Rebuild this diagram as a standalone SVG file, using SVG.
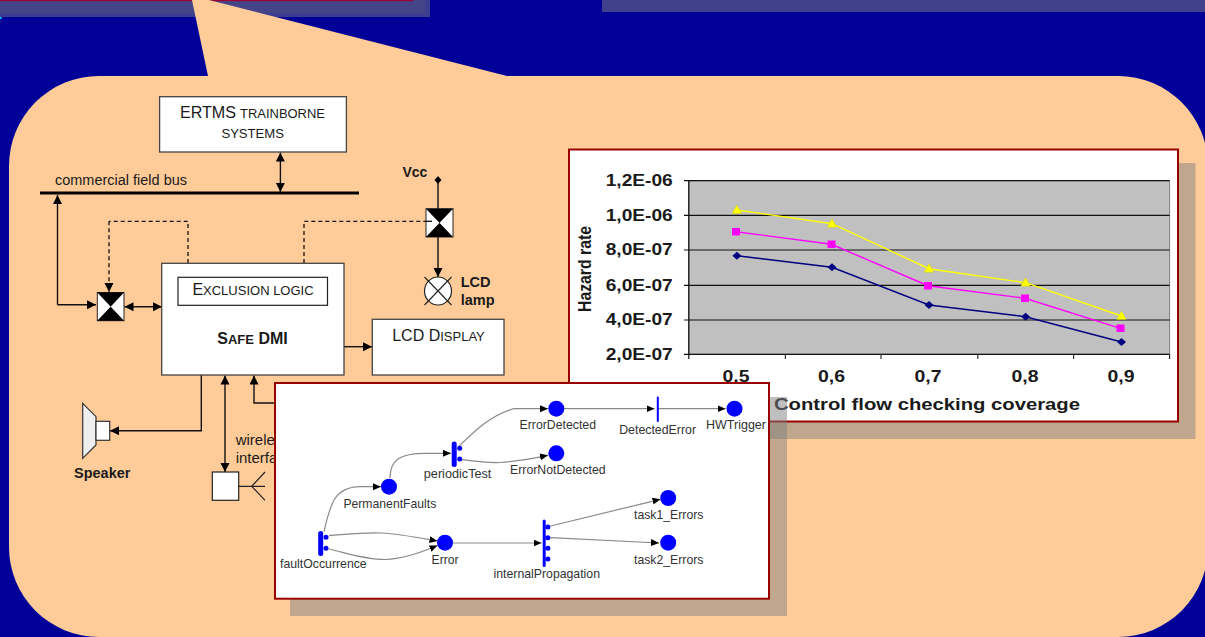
<svg xmlns="http://www.w3.org/2000/svg" width="1205" height="637" viewBox="0 0 1205 637">
<style>
text{font-family:"Liberation Sans",Arial,sans-serif;fill:#1a1a1a}
.b{font-weight:bold}
.box{fill:#fff;stroke:#444;stroke-width:1.3}
.w{fill:none;stroke:#111;stroke-width:1.4}
.a{marker-end:url(#ah)}
.d{marker-start:url(#ahs);marker-end:url(#ah)}
.dash{fill:none;stroke:#111;stroke-width:1.3;stroke-dasharray:4 3}
.shadow{fill:#808080;fill-opacity:.5}
.frame{fill:#fff;stroke:#990000;stroke-width:2}
.grid{stroke:#111;stroke-width:1.2}
.tick{stroke:#333;stroke-width:1.2}
.yl,.xl,.at{font-weight:bold;font-size:16px}
.yl{text-anchor:end}
.xl{text-anchor:middle}
.hz{font-weight:bold;font-size:18px}
.s1{fill:none;stroke:#000080;stroke-width:1.4}
.s2{fill:none;stroke:#ff00ff;stroke-width:1.4}
.s3{fill:none;stroke:#ffff00;stroke-width:1.4}
.place{fill:#0000ff}
.bar{fill:none;stroke:#0000ff;stroke-linecap:round}
.dot{fill:#0000ff}
.e{fill:none;stroke:#8a8a8a;stroke-width:1.2;marker-end:url(#pah)}
.pl{font-size:13px;fill:#333}
</style>
<defs>
<marker id="ah" markerUnits="userSpaceOnUse" markerWidth="10" markerHeight="10" refX="9" refY="4.5" orient="auto"><path d="M0 0L9 4.5L0 9z" fill="#000"/></marker>
<marker id="ahs" markerUnits="userSpaceOnUse" markerWidth="10" markerHeight="10" refX="0" refY="4.5" orient="auto"><path d="M9 0L0 4.5L9 9z" fill="#000"/></marker>
<marker id="pah" markerUnits="userSpaceOnUse" markerWidth="9" markerHeight="8" refX="8" refY="3.5" orient="auto"><path d="M0 0L8 3.5L0 7z" fill="#000"/></marker>
</defs>

<rect width="1205" height="637" fill="#000099"/>
<g id="top-panels">
<rect x="0" y="0" width="430" height="17" fill="#3d3d8f"/>
<rect x="0" y="0" width="425" height="13" fill="#444488"/>
<rect x="0" y="0" width="413" height="1.2" fill="#990033"/>
<rect x="602" y="0" width="603" height="12" fill="#40408c"/>
<rect x="0" y="17" width="1.5" height="2" fill="#00ccff"/>
</g>
<path id="callout" fill="#ffcc99" d="M192 0L209 0L507 76L1118 76A90 90 0 0 1 1208 166L1208 547A90 90 0 0 1 1118 637L99 637A90 90 0 0 1 9 547L9 166A90 90 0 0 1 99 76L208 76z"/>

<g id="connectors">
<path class="w d" d="M280.4 152.500V192"/>
<path class="w a" d="M57.500 304.700V195" />
<path class="w a" d="M57.500 304.700H96"/>
<path class="w d" d="M124.500 306.700H162"/>
<path class="dash" d="M188 277V221.300H109"/>
<path class="dash a" d="M109 221.300V292"/>
<path class="dash" d="M304 277V221.300H427"/>
<path class="w" d="M438 180V209"/>
<path class="w a" d="M438 237V277"/>
<path class="w a" d="M344 346.700H372"/>
<path class="w a" d="M201.300 375V430.700H110"/>
<path class="w d" d="M225 375.500V472"/>
<path class="w a" d="M276 403H254V375.500"/>
</g>

<g id="bus"><rect x="40" y="191.500" width="319" height="3" fill="#000"/>
<text x="55" y="185" font-size="14" textLength="132" lengthAdjust="spacingAndGlyphs">commercial field bus</text></g>

<g id="ertms"><rect class="box" x="159.600" y="96.700" width="186.800" height="55.300"/>
<text x="180" y="118" font-size="17" textLength="56" lengthAdjust="spacingAndGlyphs">ERTMS</text>
<text x="240" y="118" font-size="13" textLength="85" lengthAdjust="spacingAndGlyphs">TRAINBORNE</text>
<text x="221.400" y="138" font-size="13" textLength="62.600" lengthAdjust="spacingAndGlyphs">SYSTEMS</text></g>

<g id="safe-dmi"><rect class="box" x="161.700" y="263.300" width="182.300" height="111.700"/>
<text class="b" x="252.500" y="344" text-anchor="middle" font-size="16">S<tspan font-size="13">AFE</tspan> DMI</text></g>

<g id="exclusion-logic"><rect x="178" y="277.300" width="149.500" height="28" fill="#fff" stroke="#222" stroke-width="1.200"/>
<text x="253" y="295" text-anchor="middle" font-size="16">E<tspan font-size="13">XCLUSION LOGIC</tspan></text></g>

<g id="lcd-display"><rect class="box" x="372.300" y="319.300" width="131.700" height="55.700"/>
<text x="438.500" y="340.700" text-anchor="middle" font-size="16">LCD D<tspan font-size="13">ISPLAY</tspan></text></g>

<g id="switch-left"><rect x="97.300" y="292.500" width="26.700" height="28.200" fill="#fff" stroke="#222" stroke-width="1"/>
<path d="M97.300 292.500H124L97.300 320.700H124z" fill="#000"/></g>

<g id="switch-right"><rect x="426" y="208.700" width="27" height="28.300" fill="#fff" stroke="#222" stroke-width="1"/>
<path d="M426 208.700H453L426 237H453z" fill="#000"/>
<path d="M426 221.300H432" stroke="#111" stroke-width="1.300"/></g>

<g id="vcc"><text class="b" x="402.500" y="177" font-size="14">Vcc</text>
<path d="M438 176L441.500 180L438 184L434.500 180z" fill="#000"/></g>

<g id="lcd-lamp"><ellipse cx="438" cy="291" rx="13.500" ry="14" fill="#fff" stroke="#222" stroke-width="1.200"/>
<path d="M424.500 277L451.500 305M451.500 277L424.500 305" stroke="#222" stroke-width="1.100"/>
<text class="b" x="460.700" y="287" font-size="14.500">LCD</text>
<text class="b" x="460.700" y="304.700" font-size="14.500">lamp</text></g>

<g id="speaker"><path d="M82.700 403.300L96 416.700V445L82.700 458.300z" fill="#eee" stroke="#333" stroke-width="1.200"/>
<rect x="96" y="421.300" width="13.700" height="19" fill="#fff" stroke="#333" stroke-width="1.200"/>
<text class="b" x="74" y="478" font-size="14.500">Speaker</text></g>

<g id="wireless"><rect x="212.300" y="472" width="26.400" height="28.300" fill="#fff" stroke="#222" stroke-width="1.200"/>
<path d="M238.700 486.300H265M265 472L251.700 486.300L265 500.300" fill="none" stroke="#222" stroke-width="1.200"/>
<text x="235.700" y="444.700" font-size="15">wirele</text>
<text x="235.700" y="462.700" font-size="15">interfa</text></g>

<g id="chart">
<rect class="shadow" x="587" y="163" width="608.500" height="276"/>
<rect class="frame" x="569" y="149.500" width="609" height="272"/>
<rect x="688.800" y="180.700" width="480.800" height="173.600" fill="#c0c0c0" stroke="#808080" stroke-width="1"/>
<path class="grid" d="M684 215.300H1169.600M684 250H1169.600M684 285.300H1169.600M684 320H1169.600M684 354.300H1169.600M684 180.700H1169.600M688.800 180.700V359"/>
<path class="tick" d="M785.400 354.300V359M881 354.300V359M977.800 354.300V359M1073.600 354.300V359M1169.600 354.300V359"/>
<g>
<text class="yl" x="672.700" y="186" textLength="67" lengthAdjust="spacingAndGlyphs">1,2E-06</text>
<text class="yl" x="672.700" y="220.500" textLength="67" lengthAdjust="spacingAndGlyphs">1,0E-06</text>
<text class="yl" x="672.700" y="255" textLength="67" lengthAdjust="spacingAndGlyphs">8,0E-07</text>
<text class="yl" x="672.700" y="290.500" textLength="67" lengthAdjust="spacingAndGlyphs">6,0E-07</text>
<text class="yl" x="672.700" y="325" textLength="67" lengthAdjust="spacingAndGlyphs">4,0E-07</text>
<text class="yl" x="672.700" y="359.500" textLength="67" lengthAdjust="spacingAndGlyphs">2,0E-07</text>
<text class="xl" x="736" y="382" textLength="27" lengthAdjust="spacingAndGlyphs">0,5</text>
<text class="xl" x="831.500" y="382" textLength="27" lengthAdjust="spacingAndGlyphs">0,6</text>
<text class="xl" x="928" y="382" textLength="27" lengthAdjust="spacingAndGlyphs">0,7</text>
<text class="xl" x="1025" y="382" textLength="27" lengthAdjust="spacingAndGlyphs">0,8</text>
<text class="xl" x="1121" y="382" textLength="27" lengthAdjust="spacingAndGlyphs">0,9</text>
<text class="at" x="774" y="410" textLength="306" lengthAdjust="spacingAndGlyphs">Control flow checking coverage</text>
<text class="hz" transform="translate(591 312) rotate(-90)" textLength="86" lengthAdjust="spacingAndGlyphs">Hazard rate</text>
</g>
<polyline class="s1" points="736.900,255.700 832,267.300 929,305 1025.600,316.700 1121.500,342"/>
<polyline class="s2" points="736,231.700 831.500,244.300 928,285.700 1025,298.300 1120.500,328.300"/>
<polyline class="s3" points="736.900,210 832,223.700 929,268.700 1025.600,282.700 1121.500,316"/>
<g fill="#000080"><path d="M736.900 251.700l4.500 4-4.500 4-4.500-4z"/><path d="M832 263.300l4.500 4-4.500 4-4.500-4z"/><path d="M929 301l4.500 4-4.500 4-4.500-4z"/><path d="M1025.600 312.700l4.500 4-4.500 4-4.500-4z"/><path d="M1121.500 338l4.500 4-4.500 4-4.500-4z"/></g>
<g fill="#ff00ff"><rect x="732" y="228" width="8" height="7.500"/><rect x="827.500" y="240.500" width="8" height="7.500"/><rect x="924" y="282" width="8" height="7.500"/><rect x="1021" y="294.500" width="8" height="7.500"/><rect x="1116.500" y="324.500" width="8" height="7.500"/></g>
<g fill="#ffff00" stroke="#c8c800" stroke-width=".4"><path d="M736.900 205l4.800 8.500h-9.600z"/><path d="M832 218.700l4.800 8.500h-9.600z"/><path d="M929 263.700l4.800 8.500h-9.600z"/><path d="M1025.600 277.700l4.800 8.500h-9.600z"/><path d="M1121.500 311l4.800 8.500h-9.600z"/></g>
</g>

<g id="petri-window">
<rect class="shadow" x="290" y="397" width="497" height="219"/>
<rect class="frame" x="275" y="383" width="494" height="215.700"/>
</g>

<g id="petri-connectors">
<path class="e" d="M564 408.700H654.500"/>
<path class="e" d="M658 408.700H725.500"/>
<path class="e" d="M458 447C478 428 490 416 513.400 408.700H548"/>
<path class="e" d="M461.700 459.700C480 462 490 463 500 462.500C520 461 535 458 548 455.300"/>
<path class="e" d="M390 478C390 460 400 453.300 425 453.300H451"/>
<path class="e" d="M324 531.700C330 505 334 487 360 486.700H381"/>
<path class="e" d="M329 535.700C350 534 366 532 382 533C400 534 420 538 437.500 541"/>
<path class="e" d="M329 549C350 554 366 559.500 385 559.500C402 559 420 553 437.500 545.500"/>
<path class="e" d="M453 543H541.500"/>
<path class="e" d="M550.600 526L660.500 499.300"/>
<path class="e" d="M550.600 537.700L659 543"/>
</g>

<g id="ErrorDetected"><ellipse class="place" cx="556.300" cy="408.700" rx="8" ry="8"/><text class="pl" x="519.500" y="429.300" textLength="76.500" lengthAdjust="spacingAndGlyphs">ErrorDetected</text></g>
<g id="ErrorNotDetected"><ellipse class="place" cx="556.300" cy="453.300" rx="8" ry="8"/><text class="pl" x="510" y="474.300" textLength="95.700" lengthAdjust="spacingAndGlyphs">ErrorNotDetected</text></g>
<g id="HWTrigger"><ellipse class="place" cx="734.500" cy="408.700" rx="8" ry="8"/><text class="pl" x="706" y="429.300" textLength="60" lengthAdjust="spacingAndGlyphs">HWTrigger</text></g>
<g id="PermanentFaults"><ellipse class="place" cx="389" cy="486.700" rx="8" ry="8"/><text class="pl" x="343.400" y="508.300" textLength="92.900" lengthAdjust="spacingAndGlyphs">PermanentFaults</text></g>
<g id="Error"><ellipse class="place" cx="445" cy="542.700" rx="8" ry="8"/><text class="pl" x="431.600" y="563.700" textLength="27" lengthAdjust="spacingAndGlyphs">Error</text></g>
<g id="task1_Errors"><ellipse class="place" cx="668.200" cy="498" rx="8" ry="8"/><text class="pl" x="634" y="519" textLength="69.400" lengthAdjust="spacingAndGlyphs">task1_Errors</text></g>
<g id="task2_Errors"><ellipse class="place" cx="668.200" cy="542.700" rx="8" ry="8"/><text class="pl" x="634" y="563.700" textLength="69.400" lengthAdjust="spacingAndGlyphs">task2_Errors</text></g>
<g id="DetectedError"><path class="bar" stroke-width="2" d="M657.800 397.500V421"/><text class="pl" x="619.200" y="434" textLength="76.800" lengthAdjust="spacingAndGlyphs">DetectedError</text></g>
<g id="periodicTest"><path class="bar" stroke-width="5" d="M454.200 444V464.500"/><circle class="dot" cx="459.700" cy="448.300" r="2.500"/><circle class="dot" cx="459.700" cy="459" r="2.500"/><text class="pl" x="423.800" y="478" textLength="67.600" lengthAdjust="spacingAndGlyphs">periodicTest</text></g>
<g id="faultOccurrence"><path class="bar" stroke-width="5" d="M320.700 533.500V553.500"/><circle class="dot" cx="326" cy="537.300" r="2.500"/><circle class="dot" cx="326" cy="548.300" r="2.500"/><text class="pl" x="280" y="568" textLength="86.700" lengthAdjust="spacingAndGlyphs">faultOccurrence</text></g>
<g id="internalPropagation"><path class="bar" stroke-width="3" d="M544.200 521V565.500"/><circle class="dot" cx="547.900" cy="527" r="2.500"/><circle class="dot" cx="547.900" cy="537.700" r="2.500"/><circle class="dot" cx="547.900" cy="548.300" r="2.500"/><circle class="dot" cx="547.900" cy="559" r="2.500"/><text class="pl" x="493.500" y="578" textLength="106.500" lengthAdjust="spacingAndGlyphs">internalPropagation</text></g>
</svg>
